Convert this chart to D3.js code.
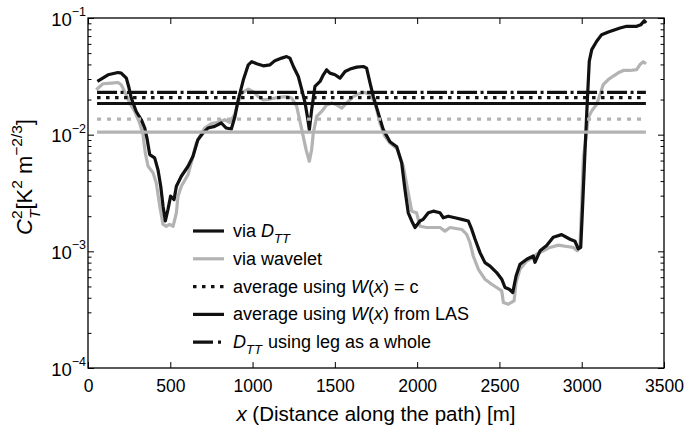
<!DOCTYPE html>
<html>
<head>
<meta charset="utf-8">
<script src="https://cdn.jsdelivr.net/npm/d3@7"></script>
<style>
  body { margin: 0; background: #fff; }
  svg { font-family: "Liberation Sans", Arial, sans-serif; }
</style>
</head>
<body>
<svg id="chart" width="685" height="431"></svg>
<script>
// C_T^2 along the path: structure function (black) and wavelet (gray)
var distDtt = [57, 122, 182, 202, 233, 247, 263, 293, 324, 345, 360, 375, 405, 425, 442, 456, 470, 486, 502, 523,
  537, 567, 608, 638, 668, 699, 729, 770, 810, 840, 871, 893, 913, 944, 974, 995, 1025, 1065, 1106, 1136,
  1177, 1207, 1227, 1248, 1278, 1299, 1319, 1333, 1345, 1359, 1379, 1410, 1430, 1450, 1470, 1501, 1531, 1562, 1592, 1633,
  1673, 1693, 1714, 1734, 1764, 1794, 1835, 1876, 1906, 1926, 1946, 1967, 1987, 2017, 2037, 2068, 2098, 2139, 2159, 2189,
  2230, 2271, 2311, 2332, 2352, 2382, 2412, 2443, 2483, 2514, 2534, 2560, 2581, 2601, 2625, 2666, 2706, 2716, 2747, 2787,
  2827, 2878, 2929, 2959, 2979, 2994, 3006, 3020, 3034, 3046, 3061, 3091, 3121, 3162, 3202, 3233, 3273, 3334, 3360, 3380, 3391];
var ctDtt = [0.0286, 0.0326, 0.0341, 0.0337, 0.0305, 0.0259, 0.0206, 0.0158, 0.01343, 0.0114, 0.00906, 0.00675, 0.00632, 0.00502, 0.00361, 0.00244, 0.00182, 0.00229, 0.00297, 0.00278,
  0.00361, 0.0044, 0.00536, 0.00653, 0.00906, 0.01034, 0.0114, 0.01178, 0.01259, 0.0114, 0.01119, 0.01433, 0.0199, 0.0295, 0.0397, 0.0423, 0.0405, 0.0389, 0.0397, 0.0431,
  0.0453, 0.0467, 0.0453, 0.0384, 0.0315, 0.0243, 0.0187, 0.01433, 0.01104, 0.01637, 0.0259, 0.0286, 0.0326, 0.036, 0.0337, 0.0326, 0.0305, 0.0348, 0.0365, 0.0379,
  0.0384, 0.0372, 0.0277, 0.0212, 0.0153, 0.01104, 0.00871, 0.00789, 0.00573, 0.00339, 0.00214, 0.00182, 0.0016, 0.00182, 0.00188, 0.00214, 0.00221, 0.00214, 0.00194, 0.002,
  0.00194, 0.00188, 0.00182, 0.00154, 0.00127, 0.000975, 0.0008, 0.000748, 0.000658, 0.000577, 0.00049, 0.000473, 0.000444, 0.000615, 0.000774, 0.000855, 0.000912, 0.000805, 0.00101, 0.00112,
  0.00132, 0.00139, 0.00127, 0.00122, 0.00105, 0.00108, 0.00254, 0.00726, 0.0194, 0.0427, 0.0536, 0.0632, 0.072, 0.0759, 0.0794, 0.0822, 0.0849, 0.0849, 0.0877, 0.0948, 0.0906];

var distWav = [50, 91, 142, 182, 202, 227, 253, 284, 314, 334, 348, 365, 395, 415, 436, 456, 476, 496, 517, 537,
  547, 567, 608, 638, 658, 679, 709, 749, 790, 831, 861, 891, 904, 934, 974, 1004, 1035, 1065, 1106, 1167,
  1207, 1238, 1268, 1299, 1325, 1345, 1359, 1369, 1390, 1420, 1450, 1481, 1511, 1542, 1572, 1612, 1653, 1683, 1714, 1744,
  1774, 1804, 1835, 1878, 1916, 1946, 1967, 1997, 2017, 2058, 2139, 2169, 2200, 2271, 2301, 2321, 2341, 2372, 2412, 2453,
  2483, 2514, 2524, 2554, 2589, 2601, 2625, 2666, 2706, 2726, 2767, 2807, 2858, 2909, 2949, 2973, 2990, 3000, 3010, 3026,
  3040, 3061, 3091, 3111, 3131, 3162, 3192, 3222, 3253, 3293, 3334, 3354, 3374, 3391];
var ctWav = [0.0243, 0.0273, 0.0277, 0.028, 0.0268, 0.0227, 0.0187, 0.0158, 0.01259, 0.01, 0.00698, 0.00536, 0.00471, 0.00386, 0.00244, 0.0017, 0.00164, 0.0017, 0.00164, 0.00214,
  0.00297, 0.00361, 0.00455, 0.00653, 0.00849, 0.00967, 0.0114, 0.01242, 0.01274, 0.01343, 0.01274, 0.01483, 0.01746, 0.0227, 0.0246, 0.0234, 0.0212, 0.0199, 0.0202, 0.021,
  0.0212, 0.0206, 0.01746, 0.01104, 0.00745, 0.00592, 0.00745, 0.01034, 0.01433, 0.0158, 0.018, 0.0187, 0.018, 0.0169, 0.0187, 0.0212, 0.0227, 0.023, 0.022, 0.0187,
  0.01259, 0.00967, 0.00849, 0.00759, 0.00536, 0.00318, 0.00221, 0.00214, 0.00164, 0.0016, 0.0016, 0.00149, 0.0016, 0.00154, 0.0014, 0.00119, 0.000912, 0.000702, 0.000577, 0.000522,
  0.00049, 0.000458, 0.000365, 0.000352, 0.000376, 0.00054, 0.000702, 0.000826, 0.000883, 0.000948, 0.00101, 0.00108, 0.00113, 0.0011, 0.00108, 0.00101, 0.00115, 0.00254, 0.00636, 0.00942,
  0.014, 0.016, 0.0182, 0.0221, 0.0269, 0.0297, 0.0318, 0.0339, 0.0355, 0.0355, 0.0361, 0.0399, 0.0421, 0.0405];

// path averages, drawn as horizontal lines
var avgRange = [55, 3390];
var avgNames = ["wavelet LAS", "wavelet c", "from LAS", "W(x) = c", "leg as a whole"];
var avgValues = [0.0105, 0.0136, 0.0185, 0.0208, 0.023];
var avgColors = ["#b3b3b3", "#b3b3b3", "#111", "#111", "#111"];
var avgDash = [null, "4,6", null, "3.5,5.5", "20,3.5,3,3.5"];

var xTicks = [0, 500, 1000, 1500, 2000, 2500, 3000, 3500];
var yMajor = [1e-4, 1e-3, 1e-2, 1e-1];
var yExp = ["\u22124", "\u22123", "\u22122", "\u22121"];

(function () {
  var gray = "#b3b3b3", black = "#111";

  var svg = d3.select("#chart");
  var pl = 88, pr = 664, pt = 18, pb = 368;

  var x = d3.scaleLinear().domain([0, 3500]).range([pl, pr]);
  var y = d3.scaleLog().domain([1e-4, 1e-1]).range([pb, pt]);

  var minors = y.ticks().filter(function (d) { return yMajor.indexOf(d) < 0; });

  // axes, ticks inside
  function axisStyle(g) {
    g.select(".domain").remove();
    g.selectAll(".tick line").attr("stroke", "#000").attr("stroke-width", 1);
  }
  svg.append("g").attr("transform", "translate(0," + pb + ")")
    .call(d3.axisBottom(x).tickValues(xTicks).tickSize(-6).tickPadding(12).tickFormat(d3.format("d")))
    .call(axisStyle)
    .selectAll("text").attr("font-size", 17.5).attr("fill", "#000").attr("font-family", "Liberation Sans, Arial, sans-serif");
  svg.append("g").attr("transform", "translate(0," + pt + ")")
    .call(d3.axisTop(x).tickValues(xTicks).tickSize(-6).tickFormat(""))
    .call(axisStyle);
  [[d3.axisLeft, pl], [d3.axisRight, pr]].forEach(function (a) {
    svg.append("g").attr("transform", "translate(" + a[1] + ",0)")
      .call(a[0](y).tickValues(yMajor).tickSize(-6).tickFormat(""))
      .call(axisStyle);
    svg.append("g").attr("transform", "translate(" + a[1] + ",0)")
      .call(a[0](y).tickValues(minors).tickSize(-3.5).tickFormat(""))
      .call(axisStyle);
  });

  var yl = svg.append("g").selectAll("text").data(yMajor).join("text")
    .attr("x", 86).attr("y", function (d) { return y(d) + 7.5; })
    .attr("text-anchor", "end").attr("font-size", 18.5);
  yl.append("tspan").text("10");
  yl.append("tspan").attr("font-size", 12.5).attr("dy", -9.5).text(function (d, i) { return yExp[i]; });

  // curves
  var line = d3.line().x(function (d) { return x(d[0]); }).y(function (d) { return y(d[1]); });
  svg.append("path").datum(d3.zip(distWav, ctWav)).attr("d", line)
    .attr("fill", "none").attr("stroke", gray).attr("stroke-width", 3.2).attr("stroke-linejoin", "round");
  svg.append("path").datum(d3.zip(distDtt, ctDtt)).attr("d", line)
    .attr("fill", "none").attr("stroke", black).attr("stroke-width", 3.2).attr("stroke-linejoin", "round");

  svg.append("g").selectAll("line").data(avgValues).join("line")
    .attr("x1", x(avgRange[0])).attr("x2", x(avgRange[1]))
    .attr("y1", function (d) { return y(d); }).attr("y2", function (d) { return y(d); })
    .attr("stroke", function (d, i) { return avgColors[i]; })
    .attr("stroke-width", 3.2)
    .attr("stroke-dasharray", function (d, i) { return avgDash[i]; });

  // box
  svg.append("rect").attr("x", pl).attr("y", pt).attr("width", pr - pl).attr("height", pb - pt)
    .attr("fill", "none").attr("stroke", "#000").attr("stroke-width", 1.3);

  // legend
  var legColors = [black, gray, black, black, black];
  var legDash = [null, null, "3.5,5.5", null, "20,5,3,5"];
  var leg = svg.append("g").attr("font-size", 18);
  legColors.forEach(function (c, i) {
    var ly = 231 + i * 27.8;
    leg.append("line").attr("x1", 193).attr("x2", 224).attr("y1", ly).attr("y2", ly)
      .attr("stroke", c).attr("stroke-width", 3.2).attr("stroke-dasharray", legDash[i]);
  });
  function legText(i) {
    return leg.append("text").attr("x", 233).attr("y", 231 + i * 27.8 + 6);
  }
  var t0 = legText(0);
  t0.append("tspan").text("via ");
  t0.append("tspan").attr("font-style", "italic").text("D");
  t0.append("tspan").attr("font-style", "italic").attr("font-size", 13).attr("dy", 6).text("TT");
  legText(1).text("via wavelet");
  var t2 = legText(2);
  t2.append("tspan").text("average using ");
  t2.append("tspan").attr("font-style", "italic").text("W");
  t2.append("tspan").text("(");
  t2.append("tspan").attr("font-style", "italic").text("x");
  t2.append("tspan").text(") = c");
  var t3 = legText(3);
  t3.append("tspan").text("average using ");
  t3.append("tspan").attr("font-style", "italic").text("W");
  t3.append("tspan").text("(");
  t3.append("tspan").attr("font-style", "italic").text("x");
  t3.append("tspan").text(") from LAS");
  var t4 = legText(4);
  t4.append("tspan").attr("font-style", "italic").text("D");
  t4.append("tspan").attr("font-style", "italic").attr("font-size", 13).attr("dy", 6).text("TT");
  t4.append("tspan").attr("dy", -6).attr("dx", 6).text("using leg as a whole");

  // axis labels
  var xl = svg.append("text").attr("x", 376).attr("y", 421).attr("text-anchor", "middle").attr("font-size", 20.5);
  xl.append("tspan").attr("font-style", "italic").text("x");
  xl.append("tspan").text(" (Distance along the path) [m]");

  var ylab = svg.append("text").attr("transform", "translate(32,177) rotate(-90)")
    .attr("text-anchor", "middle").attr("font-size", 22);
  ylab.append("tspan").attr("font-style", "italic").text("C");
  ylab.append("tspan").attr("font-size", 15.5).attr("dy", -10).text("2");
  ylab.append("tspan").attr("font-size", 15.5).attr("font-style", "italic").attr("dx", -8.6).attr("dy", 18).text("T");
  ylab.append("tspan").attr("dy", -8).text("[K");
  ylab.append("tspan").attr("font-size", 15.5).attr("dy", -10).text("2");
  ylab.append("tspan").attr("dy", 10).text(" m");
  ylab.append("tspan").attr("font-size", 15.5).attr("dy", -10).text("\u22122/3");
  ylab.append("tspan").attr("dy", 10).text("]");
})();
</script>
</body>
</html>
